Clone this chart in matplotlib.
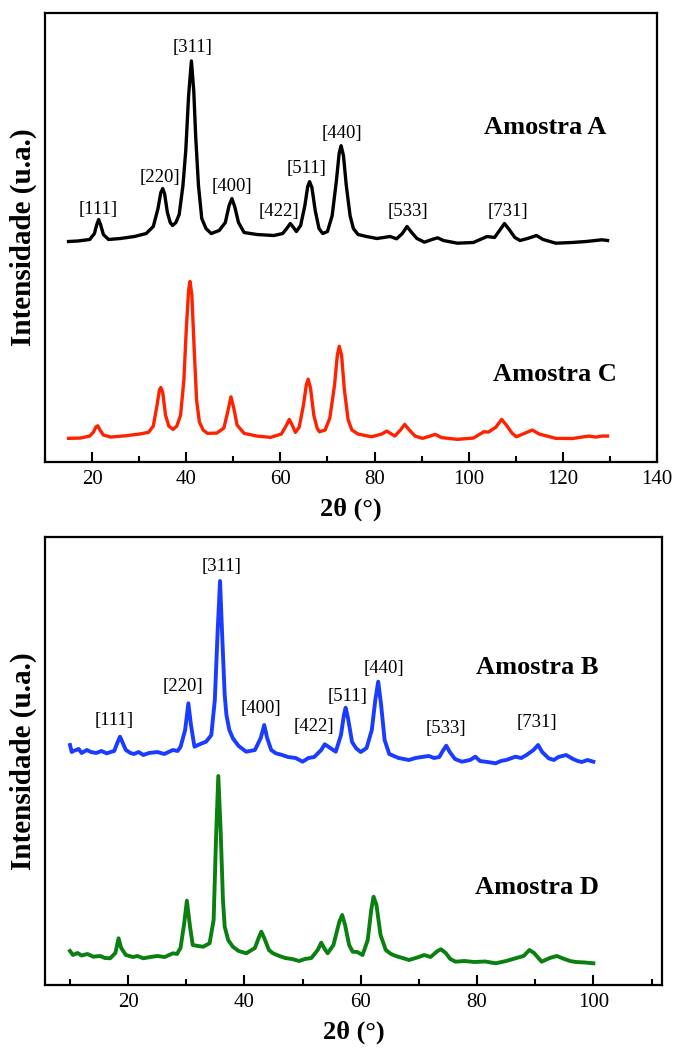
import matplotlib
matplotlib.use('Agg')
import matplotlib.pyplot as plt
from matplotlib.ticker import MultipleLocator

plt.rcParams['font.family'] = ['Liberation Serif', 'DejaVu Serif']

# ---- data (2theta in degrees, intensity in arbitrary units) ----
# Amostra A (top, black)
tt_A = [15.0, 17.0, 19.5, 20.5, 21.0, 21.4, 21.8, 22.4, 23.5, 26.0, 29.0, 31.5, 33.0, 34.0, 34.6,
        35.0, 35.4, 36.0, 36.6, 37.1, 37.8, 38.5, 39.3, 39.9, 40.5, 41.1, 41.6, 42.0, 42.6, 43.3,
        44.2, 45.3, 47.0, 48.3, 49.1, 49.7, 50.3, 51.1, 52.3, 55.0, 58.6, 60.5, 61.5, 62.1, 62.8,
        63.4, 64.3, 65.2, 65.8, 66.2, 66.7, 67.4, 68.2, 69.0, 70.0, 71.0, 71.9, 72.5, 72.9, 73.4,
        74.0, 74.8, 75.5, 76.5, 78.3, 80.5, 83.3, 84.7, 85.9, 86.9, 87.9, 89.0, 90.6, 92.2, 93.4,
        94.6, 97.6, 101.0, 103.9, 105.5, 106.7, 107.6, 108.6, 109.8, 110.9, 112.5, 114.4, 115.8,
        118.5, 122.0, 125.0, 128.3, 129.5]
I_A = [2.0, 2.5, 4.0, 10, 19, 24, 19, 9, 4, 5, 7, 10, 17, 35, 51,
       55, 50, 31, 21, 18, 21, 29, 58, 93, 148, 183, 153, 108, 58, 25,
       15, 10, 13, 21, 38, 45, 37, 21, 11, 9, 8, 10, 16, 20, 16,
       12, 18, 38, 57, 62, 56, 33, 15, 10, 12, 28, 63, 91, 98, 88,
       58, 28, 15, 9, 7, 5, 7, 4.7, 10, 17, 11, 5, 1.3, 4, 5.7,
       3, 0.3, 1, 7, 6, 14, 20, 14, 6, 3, 5, 8, 4,
       0.3, 1, 2, 3.7, 3]

# Amostra C (top, red)
tt_C = [15.0, 17.5, 19.5, 20.3, 20.8, 21.2, 21.7, 22.4, 24.0, 27.1, 30.0, 32.0, 33.0, 33.8, 34.3,
        34.6, 35.0, 35.6, 36.3, 37.2, 38.0, 38.8, 39.5, 40.0, 40.5, 40.8, 41.2, 41.7, 42.2, 42.8,
        43.6, 44.5, 46.5, 48.0, 48.9, 49.5, 50.1, 50.8, 52.3, 55.0, 57.9, 60.2, 61.3, 61.9, 62.5,
        63.2, 64.0, 64.9, 65.5, 65.9, 66.4, 67.1, 67.8, 68.3, 69.5, 70.5, 71.5, 72.1, 72.5, 73.0,
        73.6, 74.4, 75.2, 76.5, 79.4, 81.5, 82.6, 84.3, 85.5, 86.4, 87.4, 88.6, 90.2, 91.8, 92.9,
        94.2, 97.6, 101.0, 103.2, 104.2, 105.8, 107.0, 108.0, 109.2, 110.1, 112.0, 113.5, 115.0,
        118.5, 122.0, 125.5, 127.0, 128.3, 129.5]
I_C = [1.7, 2, 4, 8, 13, 14.3, 10, 5, 3, 4.3, 6, 7.7, 14, 35, 50,
       52.7, 48, 25, 14, 10.7, 14, 25, 60, 110, 150, 159, 145, 90, 40, 18,
       10, 6.7, 7, 12, 30, 43.3, 32, 15, 6.7, 4, 2.7, 6, 15, 20.7, 15,
       7.7, 13, 35, 55, 61, 52, 25, 12, 8.3, 10, 22, 55, 85, 94, 85,
       50, 20, 10, 6, 3.3, 6, 9, 4, 10, 15.7, 10, 4, 1.7, 4, 5.7,
       2.5, 0.7, 2, 8.3, 8, 13, 20.7, 15, 7, 3.3, 7, 10, 6,
       1.7, 1.5, 4, 3, 4, 4]

# Amostra B (bottom, blue)
tt_B = [10.0, 10.3, 10.6, 11.5, 12.0, 12.9, 13.6, 14.5, 15.4, 16.3, 17.0, 17.6, 18.2, 18.6, 19.0,
        19.6, 20.4, 21.0, 21.8, 22.6, 23.6, 25.0, 26.2, 27.7, 28.5, 29.0, 29.8, 30.35, 30.8, 31.4,
        32.4, 33.4, 34.3, 34.9, 35.4, 35.8, 36.2, 36.6, 36.9, 37.4, 38.0, 39.0, 40.3, 41.8, 42.8,
        43.4, 43.9, 44.6, 45.4, 46.5, 47.5, 48.8, 50.0, 51.0, 52.0, 53.2, 53.8, 54.5, 55.7, 56.6,
        57.1, 57.4, 57.8, 58.5, 59.2, 60.0, 61.0, 61.9, 62.5, 63.0, 63.5, 64.1, 64.9, 65.7, 66.5,
        67.4, 68.3, 69.4, 70.5, 71.7, 72.6, 73.5, 74.2, 74.7, 75.3, 76.2, 77.4, 78.8, 79.7, 80.5,
        81.8, 83.2, 84.1, 85.0, 86.6, 87.6, 88.5, 89.7, 90.5, 91.2, 92.3, 93.2, 94.0, 95.3, 96.5,
        97.3, 98.0, 99.0, 100.0]
I_B = [19, 12, 13, 15, 11, 14, 12, 11, 13, 10.7, 12, 13, 22, 27.3, 22,
       14, 11, 10, 12, 9, 11, 12, 10, 14, 13, 17, 34, 60.7, 39, 17.3,
       20, 22.3, 29, 64, 134, 183, 124, 69, 49, 34, 25.7, 18, 12.3, 14, 26,
       39, 26, 14, 10.7, 9, 7, 6, 2.3, 6, 7, 14, 19.7, 17, 12.3, 29,
       49, 56.3, 46, 22, 15.7, 12, 16, 34, 64, 82.3, 59, 24, 10, 8, 6,
       5, 4, 6, 7, 8, 6, 7, 14, 18.3, 12, 5, 2.3, 4, 7.3, 3,
       2, 0.7, 3, 4, 7.3, 6, 9, 14, 19, 12, 5.7, 4, 7, 9, 5,
       3, 2, 4, 2.3]

# Amostra D (bottom, green)
tt_D = [10.0, 10.5, 11.3, 12.0, 13.0, 14.0, 15.2, 16.0, 16.9, 17.8, 18.35, 18.8, 19.6, 20.8, 21.6,
        22.6, 23.8, 25.0, 26.3, 27.7, 28.4, 29.0, 29.6, 30.1, 30.6, 31.1, 32.0, 32.9, 34.0, 34.7,
        35.1, 35.5, 35.9, 36.3, 36.6, 37.2, 38.0, 39.0, 40.3, 41.8, 42.5, 42.9, 43.4, 44.2, 44.9,
        46.0, 47.0, 48.2, 49.4, 50.4, 51.5, 52.6, 53.2, 53.7, 54.3, 55.3, 56.3, 56.8, 57.3, 58.0,
        58.6, 59.4, 60.3, 61.2, 61.8, 62.2, 62.7, 63.4, 64.3, 65.2, 66.0, 67.2, 68.3, 70.0, 70.9,
        72.0, 73.2, 73.8, 74.6, 75.4, 76.3, 77.8, 79.5, 81.4, 83.2, 85.0, 86.6, 88.0, 89.0, 89.8,
        91.1, 92.5, 93.7, 95.0, 96.0, 97.0, 98.5, 100.0]
I_D = [13, 9, 11, 8.5, 10, 7.3, 8, 6, 5.7, 11, 25.7, 16, 9, 7, 8,
       5.7, 7, 8, 7, 10.7, 10, 16, 39, 63.3, 39, 19, 18, 17.3, 20.7, 44,
       124, 188, 134, 64, 37.3, 24, 17.3, 13, 10.7, 16, 27, 32.3, 26, 14, 10.7,
       8, 6, 5, 3, 5, 6, 14, 21.3, 16, 10.7, 19, 42, 49, 39, 19,
       12.3, 12, 9, 24, 54, 67.3, 59, 29, 14, 10, 8, 6, 4, 7, 9,
       7, 13, 14.7, 11, 5, 2.3, 3, 2, 2.5, 0.7, 3, 5.7, 8, 14, 11,
       2.3, 6, 8, 5, 3, 2, 1.5, 0.7]

labels_top = ['[111]', '[220]', '[311]', '[400]', '[422]', '[511]', '[440]', '[533]', '[731]']
lab_x_top = [21.4, 34.5, 41.3, 49.7, 59.7, 65.6, 73.0, 87.1, 108.4]
lab_I_top = [34, 66, 196, 57, 32, 75, 110, 32, 32]

labels_bot = ['[111]', '[220]', '[311]', '[400]', '[422]', '[511]', '[440]', '[533]', '[731]']
lab_x_bot = [17.6, 29.4, 36.0, 42.9, 52.0, 57.7, 64.0, 74.6, 90.3]
lab_I_bot = [44, 78, 197, 56, 37, 67, 96, 36, 41]

fig = plt.figure(figsize=(6.74, 10.51), dpi=100)
ax1 = fig.add_axes([45/674, 1-462/1051, 612/674, 449/1051])
ax2 = fig.add_axes([45/674, 1-985/1051, 617/674, 448/1051])

# top panel
ax1.plot(tt_A, [219 + v for v in I_A], color='black', lw=2.4, solid_joinstyle='round')
ax1.plot(tt_C, [22 + v for v in I_C], color='#ff2200', lw=2.4, solid_joinstyle='round')
for t, x, v in zip(labels_top, lab_x_top, lab_I_top):
    ax1.text(x, 219 + v, t, ha='center', va='center', fontsize=13.5)
ax1.text(116.3, 335, 'Amostra A', ha='center', va='center', fontsize=19, fontweight='bold')
ax1.text(118.4, 88, 'Amostra C', ha='center', va='center', fontsize=19, fontweight='bold')
ax1.set_xlim(10, 140)
ax1.set_ylim(0, 450)
ax1.xaxis.set_major_locator(MultipleLocator(20))
ax1.xaxis.set_minor_locator(MultipleLocator(10))

# bottom panel
ax2.plot(tt_B, [221 + v for v in I_B], color='#1a3cff', lw=2.8, solid_joinstyle='round')
ax2.plot(tt_D, [21 + v for v in I_D], color='#0a8010', lw=2.8, solid_joinstyle='round')
for t, x, v in zip(labels_bot, lab_x_bot, lab_I_bot):
    ax2.text(x, 221 + v, t, ha='center', va='center', fontsize=13.5)
ax2.text(90.3, 318, 'Amostra B', ha='center', va='center', fontsize=19, fontweight='bold')
ax2.text(90.3, 98, 'Amostra D', ha='center', va='center', fontsize=19, fontweight='bold')
ax2.set_xlim(5.7, 111.8)
ax2.set_ylim(0, 448)
ax2.xaxis.set_major_locator(MultipleLocator(20))
ax2.xaxis.set_minor_locator(MultipleLocator(10))

for ax in (ax1, ax2):
    ax.set_yticks([])
    for s in ax.spines.values():
        s.set_linewidth(1.6)
    ax.tick_params(axis='x', which='major', direction='in', length=7, width=1.5, labelsize=15, pad=6)
    ax.tick_params(axis='x', which='minor', direction='in', length=4, width=1.5)
    ax.set_xlabel('2θ (°)', fontsize=19, fontweight='bold', labelpad=6)
    ax.set_ylabel('Intensidade (u.a.)', fontsize=21, fontweight='bold', labelpad=6)

fig.savefig('out.png', dpi=100)
